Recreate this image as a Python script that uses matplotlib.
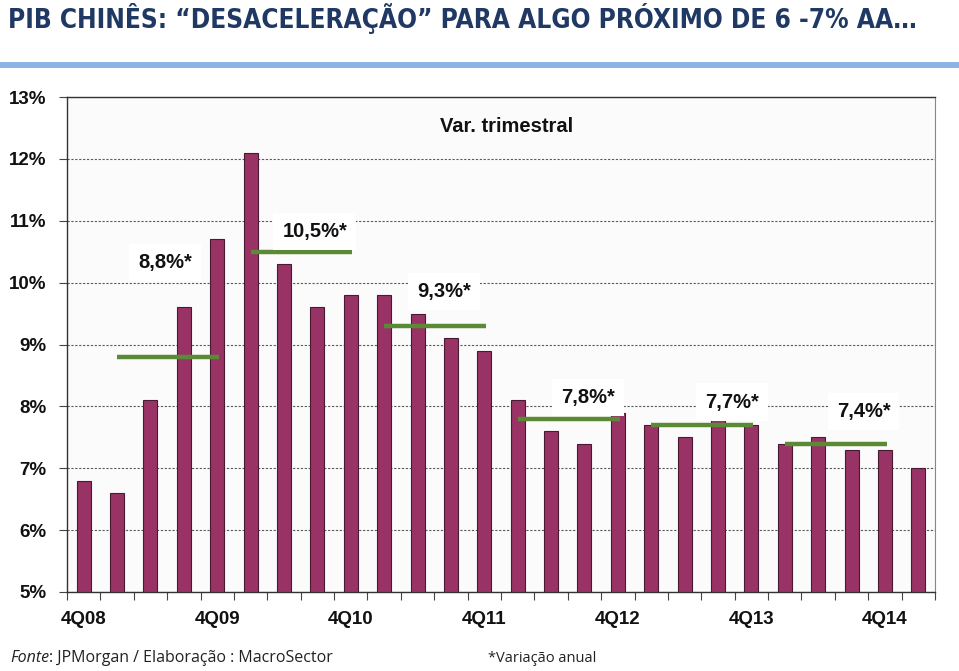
import matplotlib
matplotlib.use("Agg")
import matplotlib.pyplot as plt
from matplotlib.patches import Rectangle
import numpy as np

# quarterly GDP growth (y/y), 4Q08 .. 1Q15
quarters = ["4Q08", "1Q09", "2Q09", "3Q09", "4Q09", "1Q10", "2Q10", "3Q10", "4Q10",
            "1Q11", "2Q11", "3Q11", "4Q11", "1Q12", "2Q12", "3Q12", "4Q12",
            "1Q13", "2Q13", "3Q13", "4Q13", "1Q14", "2Q14", "3Q14", "4Q14", "1Q15"]
gdp_growth = [6.8, 6.6, 8.1, 9.6, 10.7, 12.1, 10.3, 9.6, 9.8,
              9.8, 9.5, 9.1, 8.9, 8.1, 7.6, 7.4, 7.9,
              7.7, 7.5, 7.8, 7.7, 7.4, 7.5, 7.3, 7.3, 7.0]

# annual averages (2009..2014) and the first quarter index of each year
annual_avg = [8.8, 10.5, 9.3, 7.8, 7.7, 7.4]
annual_labels = ["8,8%*", "10,5%*", "9,3%*", "7,8%*", "7,7%*", "7,4%*"]
annual_start = [1, 5, 9, 13, 17, 21]
label_pos = [(2.43, 10.32), (6.92, 10.83), (10.79, 9.86), (15.1, 8.15), (19.41, 8.07), (23.36, 7.92)]

yticks = [5, 6, 7, 8, 9, 10, 11, 12, 13]

bar_color = "#993366"
green = "#5a8a36"
navy = "#1f3864"

fig = plt.figure(figsize=(9.59, 6.71), dpi=100)
ax = fig.add_axes([67 / 959, 1 - 592 / 671, (935 - 67) / 959, (592 - 97) / 671])
ax.set_facecolor("#fbfbfb")

x = np.arange(len(gdp_growth))
ax.bar(x, np.array(gdp_growth) - 5, bottom=5, width=0.42, color=bar_color,
       edgecolor="#4a1a33", linewidth=0.8, zorder=3)

# annual average lines
for avg, start in zip(annual_avg, annual_start):
    ax.plot([start, start + 3.05], [avg, avg], color=green, linewidth=3.2, zorder=4,
            solid_capstyle="butt")

for lab, (lx, ly) in zip(annual_labels, label_pos):
    ax.text(lx, ly, lab, ha="center", va="center", fontsize=14.5, fontweight="bold",
            family="Liberation Sans", color="#111111", zorder=5,
            bbox=dict(boxstyle="square,pad=0.45", facecolor="white", edgecolor="none"))

ax.text(12.67, 12.53, "Var. trimestral", ha="center", va="center", fontsize=14.5,
        fontweight="bold", family="Liberation Sans", color="#111111", zorder=5)

ax.set_xlim(-0.5, len(gdp_growth) - 0.5)
ax.set_ylim(5, 13)
ax.set_yticks(yticks)
ax.set_yticklabels([f"{v}%" for v in yticks], fontsize=13.5, fontweight="bold",
                   family="Liberation Sans", color="#111111")
ax.yaxis.grid(True, linestyle=(0, (2, 1.5)), color="#5a5a5a", linewidth=0.8, zorder=1)
ax.tick_params(axis="y", length=6, width=0.8, color="#444444", pad=9)

ax.set_xticks(x[::4])
ax.set_xticklabels(quarters[::4], fontsize=13.5, fontweight="bold",
                   family="Liberation Sans", color="#111111")
ax.set_xticks(np.arange(-0.5, len(gdp_growth), 1), minor=True)
ax.tick_params(axis="x", which="major", length=0, pad=14)
ax.tick_params(axis="x", which="minor", length=6, width=0.8, color="#444444")

for side in ["left", "bottom", "top"]:
    ax.spines[side].set_color("#333333")
    ax.spines[side].set_linewidth(1.0)
ax.spines["right"].set_color("#888888")

# title and header band
fig.text(8 / 959, 1 - 19 / 671, "PIB CHINÊS: \u201cDESACELERAÇÃO\u201d PARA ALGO PRÓXIMO DE 6 -7% AA\u2026",
         ha="left", va="center", fontsize=18.8, fontweight="bold", fontstretch="condensed",
         family="DejaVu Sans", color=navy)
fig.patches.append(Rectangle((0, 1 - 68 / 671), 1, 6 / 671, transform=fig.transFigure,
                             facecolor="#8db3e2", edgecolor="none"))

# footer
t_src = fig.text(10 / 959, 1 - 658 / 671, "Fonte", ha="left", va="center", fontsize=11.5,
                 style="italic", family="Open Sans", color="#222222")
ax.annotate(": JPMorgan / Elaboração : MacroSector", xy=(1, 0.5), xycoords=t_src,
            ha="left", va="center", fontsize=11.5, family="Open Sans", color="#222222",
            annotation_clip=False)
fig.text(488 / 959, 1 - 658 / 671, "*Variação anual", ha="left", va="center",
         fontsize=10.5, family="Open Sans", color="#222222")

fig.savefig("out.png", dpi=100)
